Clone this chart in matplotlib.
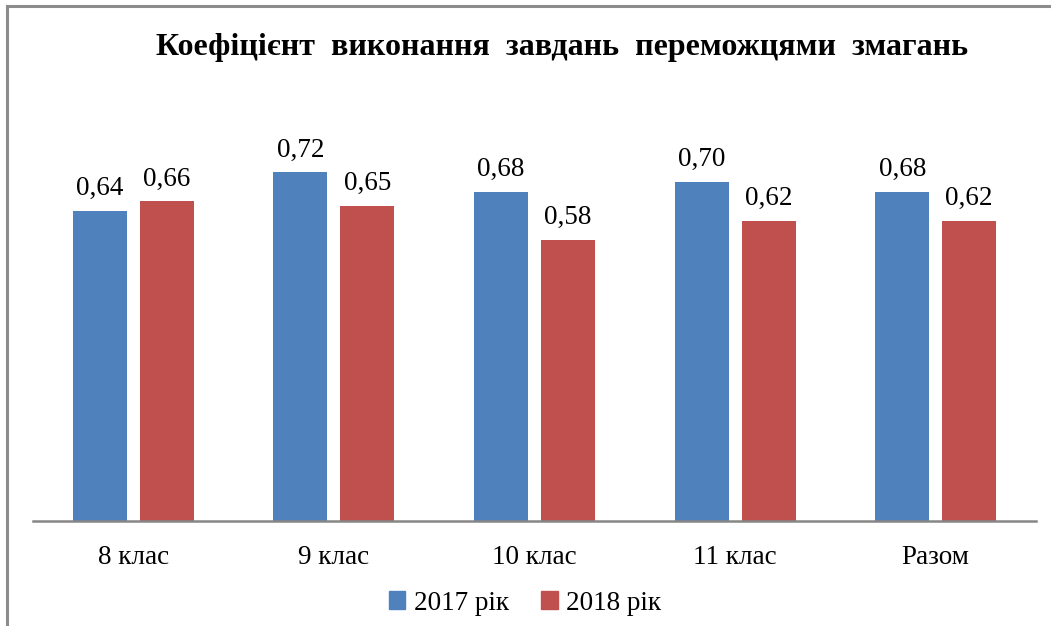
import numpy as np
import matplotlib
matplotlib.use("Agg")
import matplotlib.pyplot as plt
from matplotlib.lines import Line2D
from matplotlib.patches import Patch

plt.rcParams['font.family'] = ['Liberation Serif', 'DejaVu Serif']

# Données
classes = ["8 клас", "9 клас", "10 клас", "11 клас", "Разом"]
val_2017 = [0.64, 0.72, 0.68, 0.70, 0.68]
val_2018 = [0.66, 0.65, 0.58, 0.62, 0.62]
series = ["2017 рік", "2018 рік"]

bleu = "#4F81BD"
rouge = "#C0504D"

W, H = 1051, 626
fig = plt.figure(figsize=(W / 100, H / 100), dpi=100)
ax = fig.add_axes([33 / W, 1 - 521 / H, (1036 - 33) / W, (521 - 85) / H])

x = np.arange(len(classes))
larg = 0.27
b1 = ax.bar(x - 0.167, val_2017, larg, color=bleu, label=series[0])
b2 = ax.bar(x + 0.167, val_2018, larg, color=rouge, label=series[1])

# étiquettes des valeurs
for barres in (b1, b2):
    for b in barres:
        h = b.get_height()
        ax.annotate(f"{h:.2f}".replace(".", ","), (b.get_x() + b.get_width() / 2, h),
                    xytext=(0, 7), textcoords="offset points",
                    ha="center", va="bottom", fontsize=19.5)

ax.set_xlim(-0.5, len(classes) - 0.5)
ax.set_ylim(0, 0.9)
ax.set_yticks([])
ax.set_xticks(x)
ax.set_xticklabels(classes, fontsize=19.5)
ax.tick_params(axis="x", length=0, pad=17)
for s in ["top", "right", "left"]:
    ax.spines[s].set_visible(False)
ax.spines["bottom"].set_color("#868686")
ax.spines["bottom"].set_linewidth(1.8)

fig.text(562 / W, 1 - 47 / H, "Коефіцієнт  виконання  завдань  переможцями  змагань",
         ha="center", va="center", fontsize=23, fontweight="bold")

poignees = [Patch(color=bleu), Patch(color=rouge)]
fig.legend(poignees, series, loc="center", bbox_to_anchor=(525 / W, 1 - 603 / H),
           ncol=2, frameon=False, fontsize=19.5, handlelength=0.6, handleheight=0.6,
           handletextpad=0.3, columnspacing=1.2)

# cadre du graphique
fig.add_artist(Line2D([7 / W, 7 / W], [0, 1 - 6 / H], color="#8c8c8c", lw=2.2,
                      transform=fig.transFigure))
fig.add_artist(Line2D([7 / W, 1], [1 - 6 / H, 1 - 6 / H], color="#8c8c8c", lw=2.2,
                      transform=fig.transFigure))

plt.savefig("out.png", dpi=100)
